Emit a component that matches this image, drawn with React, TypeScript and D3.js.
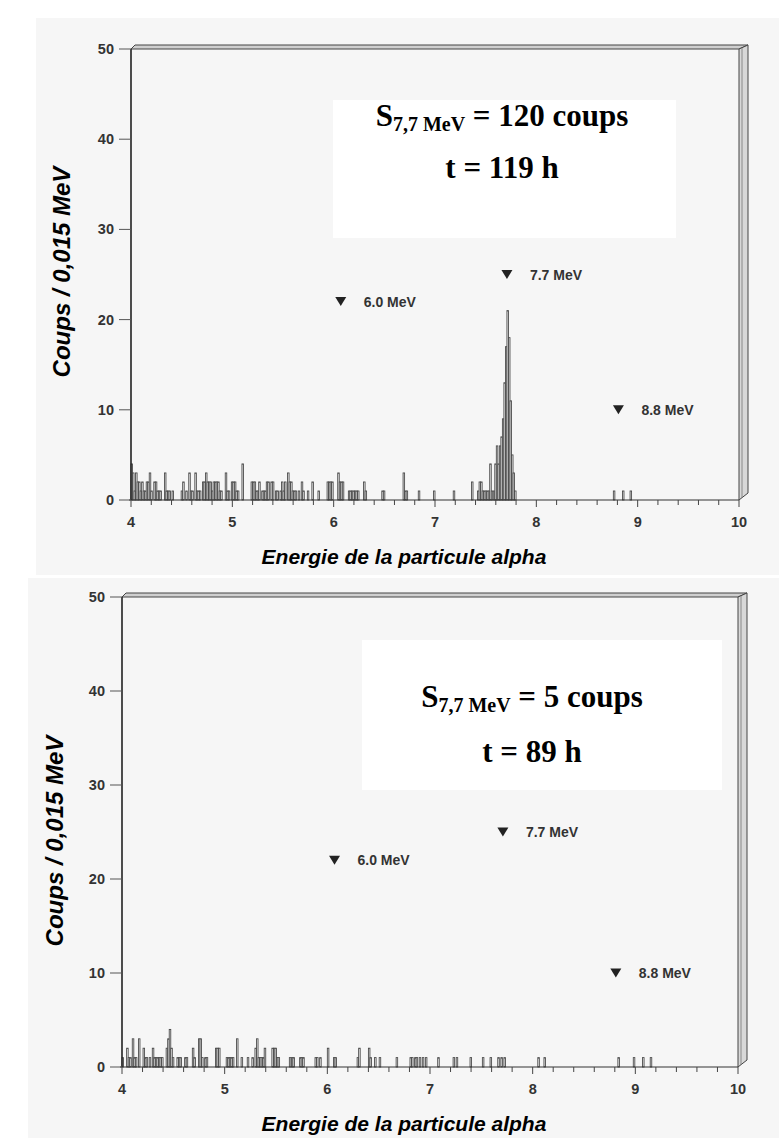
import React from "react";
import * as d3 from "d3";

// ---------- data ----------
const xTicksMajor = [4, 5, 6, 7, 8, 9, 10];
const yTicks = [0, 10, 20, 30, 40, 50];
const binWidth = 0.015;

const topEnergies = [4.000, 4.015, 4.030, 4.045, 4.060, 4.075, 4.090, 4.105, 4.120, 4.135, 4.150, 4.165, 4.180, 4.195, 4.225, 4.240, 4.255, 4.270, 4.285, 4.330, 4.345, 4.360, 4.375, 4.405, 4.495, 4.510, 4.540, 4.570, 4.585, 4.600, 4.630, 4.645, 4.660, 4.675, 4.705, 4.720, 4.735, 4.750, 4.765, 4.780, 4.795, 4.810, 4.825, 4.840, 4.855, 4.870, 4.885, 4.930, 4.945, 4.960, 4.990, 5.005, 5.020, 5.035, 5.050, 5.095, 5.185, 5.200, 5.215, 5.230, 5.245, 5.260, 5.290, 5.305, 5.320, 5.335, 5.350, 5.380, 5.395, 5.425, 5.440, 5.470, 5.485, 5.500, 5.515, 5.545, 5.560, 5.575, 5.590, 5.605, 5.620, 5.650, 5.680, 5.695, 5.740, 5.785, 5.845, 5.935, 5.950, 5.965, 5.980, 6.040, 6.055, 6.070, 6.085, 6.145, 6.160, 6.175, 6.190, 6.205, 6.220, 6.235, 6.295, 6.310, 6.475, 6.490, 6.685, 6.700, 6.715, 6.835, 6.985, 7.180, 7.360, 7.420, 7.435, 7.450, 7.465, 7.480, 7.495, 7.510, 7.525, 7.540, 7.555, 7.575, 7.590, 7.605, 7.620, 7.635, 7.650, 7.665, 7.680, 7.695, 7.710, 7.725, 7.740, 7.755, 7.770, 7.785, 8.760, 8.850, 8.925];
const topCounts = [4, 3, 1, 3, 2, 2, 1, 2, 1, 1, 2, 2, 3, 1, 2, 2, 1, 1, 1, 3, 1, 1, 1, 1, 1, 2, 1, 3, 1, 1, 3, 1, 1, 1, 2, 2, 3, 2, 2, 2, 1, 2, 2, 2, 2, 1, 1, 3, 1, 1, 2, 2, 2, 1, 1, 4, 2, 2, 2, 1, 1, 2, 1, 1, 1, 2, 2, 2, 2, 1, 1, 1, 2, 1, 2, 3, 2, 2, 1, 1, 1, 1, 2, 1, 1, 2, 1, 2, 2, 2, 2, 3, 2, 2, 2, 1, 1, 1, 1, 1, 1, 1, 2, 1, 1, 1, 3, 1, 1, 1, 1, 1, 2, 1, 2, 2, 1, 1, 1, 1, 1, 4, 1, 1, 4, 6, 4, 6, 7, 9, 13, 17, 21, 18, 11, 5, 3, 1, 1, 1, 1];

const bottomEnergies = [4.000, 4.045, 4.060, 4.075, 4.100, 4.115, 4.130, 4.160, 4.205, 4.220, 4.235, 4.265, 4.295, 4.310, 4.325, 4.340, 4.355, 4.370, 4.385, 4.430, 4.445, 4.460, 4.475, 4.490, 4.535, 4.550, 4.565, 4.610, 4.625, 4.685, 4.700, 4.745, 4.760, 4.775, 4.805, 4.820, 4.910, 4.925, 4.940, 5.015, 5.030, 5.045, 5.060, 5.075, 5.115, 5.160, 5.220, 5.265, 5.295, 5.310, 5.325, 5.340, 5.355, 5.370, 5.385, 5.460, 5.475, 5.490, 5.505, 5.520, 5.630, 5.650, 5.665, 5.730, 5.745, 5.760, 5.880, 5.895, 5.925, 6.000, 6.060, 6.075, 6.290, 6.305, 6.400, 6.415, 6.460, 6.505, 6.670, 6.805, 6.820, 6.850, 6.865, 6.895, 6.925, 6.955, 7.075, 7.225, 7.255, 7.390, 7.510, 7.585, 7.660, 7.690, 7.720, 8.050, 8.110, 8.830, 8.980, 9.070, 9.145];
const bottomCounts = [1, 2, 1, 1, 3, 1, 1, 3, 2, 1, 1, 1, 2, 1, 1, 1, 1, 1, 1, 2, 3, 4, 2, 1, 1, 1, 1, 1, 1, 2, 1, 3, 3, 1, 1, 1, 2, 2, 2, 1, 1, 1, 1, 1, 3, 1, 1, 1, 2, 3, 1, 1, 1, 1, 2, 2, 2, 2, 1, 1, 1, 1, 1, 1, 1, 1, 1, 1, 1, 2, 1, 1, 1, 2, 2, 1, 1, 1, 1, 1, 1, 1, 1, 1, 1, 1, 1, 1, 1, 1, 1, 1, 1, 1, 1, 1, 1, 1, 1, 1, 1];

const markerLabels = ["6.0 MeV", "7.7 MeV", "8.8 MeV"];
const markerEnergies = [6.07, 7.71, 8.81];
const markerCounts = [22, 25, 10];

const yTitle = "Coups / 0,015 MeV";
const xTitle = "Energie de la particule alpha";

const SANS = "'Liberation Sans', Arial, sans-serif";
const SERIF = "'Liberation Serif', 'Times New Roman', serif";

type PanelProps = {
  x0: number; x1: number; y0: number; y1: number;
  energies: number[]; counts: number[];
  total: string; time: string;
  box: [number, number, number, number];
  textX: number; line1Y: number; line2Y: number;
  yTitleX: number; yTitleY: number; xTitleY: number; bg: [number, number, number, number];
};

function Panel(p: PanelProps) {
  const xs = d3.scaleLinear().domain([4, 10]).range([p.x0, p.x1]);
  const ys = d3.scaleLinear().domain([0, 50]).range([p.y0, p.y1]);
  const minor = d3.range(4, 10.001, 0.2);
  const bw = 9; // right band width
  const th = 4; // top band thickness
  const topBand = [
    [p.x0, p.y1], [p.x0 + th, p.y1 - th], [p.x1 + bw, p.y1 - th], [p.x1, p.y1],
  ];
  const rightBand = [
    [p.x1, p.y1], [p.x1 + bw, p.y1 - th], [p.x1 + bw, p.y0 - 7], [p.x1, p.y0],
  ];
  const pts = (a: number[][]) => a.map((d) => d.join(",")).join(" ");
  return (
    <g>
      <rect x={p.bg[0]} y={p.bg[1]} width={p.bg[2]} height={p.bg[3]} fill="#f6f6f6" />
      <rect x={p.box[0]} y={p.box[1]} width={p.box[2]} height={p.box[3]} fill="#ffffff" />
      {/* 3D frame */}
      <polygon points={pts(topBand)} fill="#cfcfcf" stroke="#444" strokeWidth={1} />
      <polygon points={pts(rightBand)} fill="#d8d8d8" stroke="#444" strokeWidth={1} />
      <line x1={p.x1 + 3} x2={p.x1 + 3} y1={p.y1 - 1} y2={p.y0 - 2} stroke="#777" strokeWidth={0.8} />
      {/* histogram */}
      {p.energies.map((e, i) => {
        const xa = xs(e), xb = xs(e + binWidth);
        const yt = ys(p.counts[i]);
        return (
          <rect key={i} x={xa} y={yt} width={xb - xa} height={p.y0 - yt}
            fill="#eeeeee" stroke="#444" strokeWidth={0.85} />
        );
      })}
      {/* axes */}
      <line x1={p.x0} x2={p.x0} y1={p.y1} y2={p.y0} stroke="#222" strokeWidth={1.6} />
      <line x1={p.x0 - 2} x2={p.x1} y1={p.y0} y2={p.y0} stroke="#333" strokeWidth={1.2} />
      {minor.map((t, i) => (
        <line key={i} x1={xs(t)} x2={xs(t)} y1={p.y0} y2={p.y0 + (i % 5 === 0 ? 7 : 5)}
          stroke="#444" strokeWidth={1} />
      ))}
      {xTicksMajor.map((t) => (
        <text key={t} x={xs(t)} y={p.y0 + 27} textAnchor="middle" fontFamily={SANS}
          fontWeight="bold" fontSize={14.5} fill="#333">{t}</text>
      ))}
      {yTicks.map((t) => (
        <g key={t}>
          <line x1={p.x0 - 12} x2={p.x0} y1={ys(t)} y2={ys(t)} stroke="#555" strokeWidth={1} />
          <text x={p.x0 - 17} y={ys(t) + 5} textAnchor="end" fontFamily={SANS}
            fontWeight="bold" fontSize={14.5} fill="#333">{t}</text>
        </g>
      ))}
      {/* markers */}
      {markerEnergies.map((e, i) => {
        const cx = xs(e), cy = ys(markerCounts[i]);
        return (
          <g key={i}>
            <path d={`M${cx - 5.5},${cy - 4.5}L${cx + 5.5},${cy - 4.5}L${cx},${cy + 4.5}Z`} fill="#222" />
            <text x={cx + 23} y={cy + 5} fontFamily={SANS} fontWeight="bold" fontSize={14}
              fill="#333">{markerLabels[i]}</text>
          </g>
        );
      })}
      {/* annotation */}
      <text x={p.textX} y={p.line1Y} textAnchor="middle" fontFamily={SERIF} fontWeight="bold"
        fontSize={31} fill="#000">
        <tspan>S</tspan>
        <tspan fontSize={20} dy={5}>7,7 MeV</tspan>
        <tspan dy={-5}>{` = ${p.total} coups`}</tspan>
      </text>
      <text x={p.textX} y={p.line2Y} textAnchor="middle" fontFamily={SERIF} fontWeight="bold"
        fontSize={31} fill="#000">{`t = ${p.time} h`}</text>
      {/* titles */}
      <text transform={`translate(${p.yTitleX},${p.yTitleY}) rotate(-90)`}
        textAnchor="middle" fontFamily={SANS} fontWeight="bold" fontStyle="italic"
        fontSize={24} fill="#000">{yTitle}</text>
      <text x={404} y={p.xTitleY} textAnchor="middle" fontFamily={SANS} fontWeight="bold"
        fontStyle="italic" fontSize={21} fill="#000">{xTitle}</text>
    </g>
  );
}

export default function App() {
  return (
    <svg width={779} height={1138} style={{ position: "absolute", left: 0, top: 0 }}>
      <rect x={0} y={0} width={779} height={1138} fill="#ffffff" />
      <Panel x0={131} x1={739} y0={500} y1={49} energies={topEnergies} counts={topCounts}
        total="120" time="119" box={[333, 100, 343, 138]} textX={502} line1Y={126} line2Y={178}
        yTitleX={70} yTitleY={272} xTitleY={564} bg={[36, 18, 743, 557]} />
      <Panel x0={122} x1={738} y0={1067} y1={597} energies={bottomEnergies} counts={bottomCounts}
        total="5" time="89" box={[362, 640, 360, 150]} textX={532} line1Y={707} line2Y={762}
        yTitleX={63} yTitleY={841} xTitleY={1131} bg={[28, 578, 751, 560]} />
    </svg>
  );
}
